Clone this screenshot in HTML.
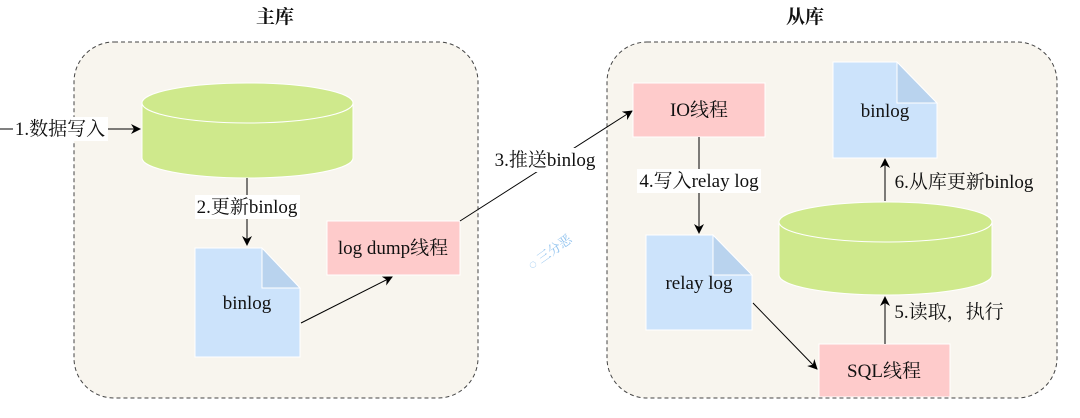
<!DOCTYPE html>
<html><head><meta charset="utf-8"><style>
body{margin:0;background:#fff;}
svg text{font-family:"Liberation Serif","Noto Serif CJK SC",serif;font-size:19px;fill:#111;}
</style></head><body>
<svg width="1080" height="413" viewBox="0 0 1080 413" xmlns="http://www.w3.org/2000/svg">
<defs><marker id="a" markerWidth="10" markerHeight="10" refX="9" refY="5" orient="auto" markerUnits="userSpaceOnUse"><path d="M0,0 L10,5 L0,10 L3,5z" fill="#000"/></marker></defs>
<text x="275" y="23" text-anchor="middle" font-weight="bold">主库</text>
<text x="805" y="23" text-anchor="middle" font-weight="bold">从库</text>
<rect x="74" y="42" width="404" height="356" rx="40" fill="#f8f5ee" stroke="#444" stroke-dasharray="4,3"/>
<rect x="607" y="42" width="450" height="356" rx="40" fill="#f8f5ee" stroke="#444" stroke-dasharray="4,3"/>
<path d="M142,103 L142,158 A105.5,20 0 0 0 353,158 L353,103" fill="#cfe98c" stroke="#fff"/>
<ellipse cx="247.5" cy="103" rx="105.5" ry="20" fill="#cfe98c" stroke="#fff"/>
<line x1="0" y1="129" x2="140" y2="129" stroke="#000" marker-end="url(#a)"/>
<rect x="13" y="117" width="95" height="24" fill="#fff"/>
<text x="60" y="135" text-anchor="middle">1.数据写入</text>
<line x1="247" y1="178" x2="247" y2="245" stroke="#000" marker-end="url(#a)"/>
<rect x="195" y="195" width="105" height="24" fill="#fff"/>
<text x="247" y="213" text-anchor="middle">2.更新binlog</text>
<path d="M195,248 L262,248 L300,288 L300,357 L195,357z" fill="#cce3fb" stroke="#fff"/>
<path d="M262,248 L262,288 L300,288z" fill="#b9d3ee" stroke="#fff"/>
<text x="247" y="309" text-anchor="middle">binlog</text>
<rect x="327" y="221" width="133" height="54" fill="#fecbcb" stroke="#fff"/>
<text x="393" y="254" text-anchor="middle">log dump线程</text>
<line x1="301" y1="323" x2="392" y2="277" stroke="#000" marker-end="url(#a)"/>
<line x1="460" y1="221" x2="632" y2="111" stroke="#000" marker-end="url(#a)"/>
<rect x="493" y="148" width="104" height="24" fill="#fff"/>
<text x="545" y="166" text-anchor="middle">3.推送binlog</text>
<rect x="633" y="83" width="132" height="54" fill="#fecbcb" stroke="#fff"/>
<text x="699" y="116" text-anchor="middle">IO线程</text>
<line x1="699" y1="137" x2="699" y2="233" stroke="#000" marker-end="url(#a)"/>
<rect x="637" y="169" width="124" height="24" fill="#fff"/>
<text x="699" y="187" text-anchor="middle">4.写入relay log</text>
<path d="M646,235 L713,235 L752,275 L752,330 L646,330z" fill="#cce3fb" stroke="#fff"/>
<path d="M713,235 L713,275 L752,275z" fill="#b9d3ee" stroke="#fff"/>
<text x="699" y="289" text-anchor="middle">relay log</text>
<line x1="753" y1="303" x2="817" y2="369" stroke="#000" marker-end="url(#a)"/>
<rect x="819" y="344" width="131" height="53" fill="#fecbcb" stroke="#fff"/>
<text x="884" y="377" text-anchor="middle">SQL线程</text>
<path d="M779,222 L779,275 A106.5,20 0 0 0 992,275 L992,222" fill="#cfe98c" stroke="#fff"/>
<ellipse cx="885.5" cy="222" rx="106.5" ry="20" fill="#cfe98c" stroke="#fff"/>
<line x1="885" y1="344" x2="885" y2="297" stroke="#000" marker-end="url(#a)"/>
<text x="949" y="318" text-anchor="middle">5.读取，执行</text>
<line x1="885" y1="201" x2="885" y2="159" stroke="#000" marker-end="url(#a)"/>
<text x="964" y="188" text-anchor="middle">6.从库更新binlog</text>
<path d="M833,62 L897,62 L937,103 L937,158 L833,158z" fill="#cce3fb" stroke="#fff"/>
<path d="M897,62 L897,103 L937,103z" fill="#b9d3ee" stroke="#fff"/>
<text x="885" y="117" text-anchor="middle">binlog</text>
<text x="520" y="258" transform="rotate(-35 545 245)" style="font-size:13px;fill:#8cc0ee">◌ 三分恶</text>
</svg>
</body></html>
